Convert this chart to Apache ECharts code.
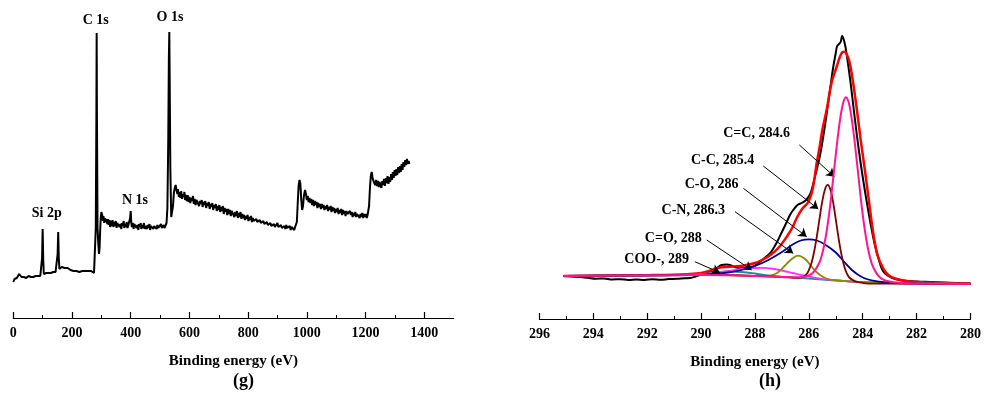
<!DOCTYPE html>
<html>
<head>
<meta charset="utf-8">
<script src="https://cdn.jsdelivr.net/npm/echarts@6/dist/echarts.min.js"></script>
<style>
  html, body { margin: 0; padding: 0; background: #ffffff; }
  #chart { width: 984px; height: 403px; }
</style>
</head>
<body>
<div id="chart"></div>
<script>
// ---- (g) XPS survey spectrum: [binding energy eV, intensity a.u.] ----
const surveySpectrum = [
  [0,36],[4,39],[8,41],[12,40],[16,42],[20,44],[24,43],[28,41],[32,42],[36,41],[40,42],[44,40],[48,41],[52,42],[56,40],
  [60,41],[64,42],[68,41],[72,40],[76,42],[80,41],[84,42],[88,41],[92,42],[96,42],
  [98,60],[100,89],[102,58],[104,44],[108,46],[112,45],[116,47],[120,45],[124,46],[128,45],[132,47],[136,46],[140,48],[144,46],[148,47],
  [151,64],[153,86],[155,60],[157,49],[161,48],[165,51],[170,49],[175,50],[180,48],[185,50],[190,49],[195,48],[200,49],
  [205,47],[210,48],[215,47],[220,48],[225,46],[230,48],[235,47],[240,46],[245,47],[250,46],[255,47],[260,45],[265,47],
  [270,46],[275,45],[279,46],
  [281,90],[283,200],[284,285],[285,200],[287,90],[290,72],[292,64],[294,70],[296,88],[298,100],[300,106],[303,103],
  [305,97],[307,102],[310,95],[312,100],[315,96],[317,99],[320,94],[323,99],[325,93],[328,98],[330,91],[333,97],[336,92],
  [338,98],[341,91],[344,96],[346,92],[349,97],[352,90],[354,95],[357,93],[360,97],[362,91],[365,94],[368,89],[370,95],
  [373,92],[376,97],[378,90],[381,94],[384,91],[386,96],[389,90],[392,93],[395,95],[398,100],[400,107],[402,95],[404,91],
  [407,95],[410,89],[412,94],[415,92],[418,96],[420,90],[423,93],[426,88],[428,94],[431,91],[434,95],[436,89],[439,93],
  [442,90],[445,95],[447,89],[450,92],[453,94],[455,89],[458,93],[461,90],[464,94],[466,88],[469,92],[472,90],[475,94],
  [477,89],[480,92],[483,91],[486,94],[488,89],[491,93],[494,90],[497,92],[500,90],[503,94],[506,90],[509,92],[512,93],
  [515,90],[518,92],[522,95],[525,110],[528,180],[530,260],
  [531.5,286],[533,230],[535,150],[538,101],[541,100],[544,112],[547,125],[550,130],[553,133],[556,128],[559,124],
  [561,129],[564,121],[567,126],[569,120],[572,127],[575,119],[577,124],[580,121],[583,126],[585,118],[588,123],
  [591,117],[594,123],[597,116],[600,121],[603,115],[606,120],[609,117],[612,122],[615,114],[618,119],[621,113],
  [624,118],[627,116],[630,120],[633,112],[636,117],[639,114],[642,118],[645,111],[648,116],[651,113],[654,117],
  [657,110],[660,115],[663,112],[666,116],[669,109],[672,114],[675,111],[678,115],[681,108],[684,113],[687,110],
  [690,114],[693,107],[696,112],[699,108],[702,113],[705,106],[708,111],[711,107],[714,112],[717,104],[720,110],
  [723,106],[726,109],[729,103],[732,109],[735,104],[738,108],[741,102],[744,107],[747,105],[750,108],[753,101],
  [756,106],[759,102],[762,107],[765,100],[768,105],[771,101],[774,106],[777,99],[780,104],[783,100],[786,103],
  [789,98],[792,102],[795,99],[798,103],[801,97],[804,101],[807,98],[810,102],[813,96],[816,100],[819,97],[822,99],
  [825,95],[828,99],[831,96],[834,98],[837,94],[840,98],[843,95],[846,97],[849,93],[852,97],[855,94],[858,96],
  [861,92],[864,96],[867,93],[870,95],[873,91],[876,95],[879,92],[882,94],[885,90],[888,94],[891,91],[894,93],
  [897,90],[900,95],[903,91],[906,93],[909,89],[912,93],[915,90],[918,92],[921,88],[924,92],[927,89],[930,93],
  [933,90],[936,92],[939,89],[942,92],[945,88],[948,91],[951,89],[954,92],[957,88],[960,91],
  [963,90],[966,96],[969,115],[972,132],[975,138],[978,134],[981,118],[984,108],[987,112],[990,122],[994,128],
  [997,124],[1000,118],[1003,122],[1006,116],[1009,120],[1012,115],[1015,119],[1018,113],[1021,118],[1024,112],
  [1027,117],[1030,113],[1033,116],[1036,110],[1039,115],[1042,111],[1045,114],[1048,109],[1051,114],[1054,110],
  [1057,113],[1060,108],[1063,112],[1066,109],[1069,113],[1072,107],[1075,111],[1078,108],[1081,112],[1084,106],
  [1087,111],[1090,107],[1093,110],[1096,105],[1099,109],[1102,106],[1105,110],[1108,104],[1111,108],[1114,105],
  [1117,109],[1120,103],[1123,108],[1126,104],[1129,107],[1132,102],[1135,107],[1138,104],[1141,106],[1144,102],
  [1147,107],[1150,103],[1153,106],[1156,101],[1159,105],[1162,102],[1165,106],[1168,101],[1171,104],[1174,102],
  [1177,105],[1180,100],[1183,104],[1186,101],[1189,105],[1192,100],[1195,104],[1198,101],[1201,104],[1204,100],
  [1207,103],[1209,104],
  [1212,112],[1215,130],[1218,142],[1221,146],[1224,140],[1227,137],[1230,139],[1233,133],[1236,138],[1239,132],
  [1242,137],[1245,131],[1248,136],[1251,134],[1254,130],[1257,137],[1260,133],[1263,139],[1266,132],[1269,140],
  [1272,135],[1275,142],[1278,134],[1281,141],[1284,136],[1287,144],[1290,138],[1293,146],[1296,140],[1299,148],
  [1302,142],[1305,149],[1308,143],[1311,151],[1314,145],[1317,152],[1320,146],[1323,154],[1326,148],[1329,156],
  [1332,151],[1335,158],[1338,153],[1341,159],[1344,154],[1347,157],[1349,154]
];

// Peak assignments on the survey: [energy, height of the label, text]
const surveyLabels = [
  [113.8, 105, 'Si 2p'],
  [414.6, 118, 'N 1s'],
  [280.7, 298, 'C 1s'],
  [533.9, 301, 'O 1s']
];

const surveyTicks = [0, 200, 400, 600, 800, 1000, 1200, 1400];
const surveyMinorTicks = [100, 300, 500, 700, 900, 1100, 1300];

// ---- (h) C 1s high-resolution spectrum ----
const carbonRaw = [
  [295.1,43],[294.8,42.5],[294.5,42],[294.2,41.2],[293.9,40.3],[293.6,40.6],[293.3,39.5],[293.0,39.8],[292.7,39],
  [292.4,39.6],[292.1,39.1],[291.8,39.7],[291.5,39.3],[291.2,39.9],[290.9,40.2],[290.6,40.8],[290.4,41],[290.2,42.5],
  [290.0,44.5],[289.8,46],[289.55,47.5],[289.4,51],[289.24,54],[289.05,54.5],[288.93,54],[288.75,52],[288.56,50.7],
  [288.35,51.5],[288.06,52.5],[287.81,57.3],[287.6,62],[287.4,67],[287.2,76],[287.0,87],[286.82,97],[286.7,104],
  [286.58,109],[286.42,114],[286.27,116],[286.1,119],[285.95,125],[285.84,135],[285.72,148],[285.59,163],[285.45,185],
  [285.34,205],[285.2,232],[285.1,251],[285.0,266],[284.95,273],[284.88,275],[284.82,277],[284.76,283],[284.7,279],
  [284.64,272],[284.55,256],[284.45,236],[284.3,202],[284.15,170],[284.0,142],[283.85,117],[283.7,94],[283.55,74],
  [283.4,59],[283.25,48],[283.05,43],[282.8,40],[282.5,38.5],[282.0,37.5],[281.5,37],[281.0,36.5],[280.5,36],[280.0,35.5]
];

const carbonEnvelope = [
  [295.1,43],[294,43.2],[293,43.5],[292,43.8],[291,44.2],[290.5,44.8],[290.0,46],[289.7,48],[289.42,50.7],[289.1,52],
  [288.8,52.5],[288.4,53.5],[288.0,56],[287.7,59.5],[287.4,64.5],[287.1,72],[286.8,83],[286.6,92],[286.45,101],
  [286.25,110],[286.02,117],[285.85,131],[285.71,155.7],[285.6,172],[285.5,189],[285.34,209],[285.15,237],[284.97,252],
  [284.85,262],[284.75,267],[284.68,267.3],[284.6,265],[284.5,258],[284.4,244],[284.23,212],[284.08,180],[283.92,149],
  [283.76,116],[283.61,86],[283.45,64],[283.24,50.7],[283.05,44],[282.8,40.5],[282.5,38.5],[282,37],[281,36],[280,35.5]
];

const peakCC_sp2 = [   // C=C, 284.6
  [295.1,43],[293,43.5],[291,43.8],[290,44],[289,43.8],[288,43],[287,42],[286.82,41.9],[286.32,41.8],[286.02,43.3],
  [285.82,47],[285.62,55.7],[285.52,63.5],[285.42,75.3],[285.32,91],[285.22,111],[285.12,134.7],[285.02,159.5],
  [284.92,183.3],[284.82,203],[284.72,216.8],[284.62,221.7],[284.52,216.4],[284.42,202.2],[284.32,182],[284.22,157.9],
  [284.12,132.8],[284.02,108.7],[283.92,88.6],[283.82,72.5],[283.72,60.4],[283.62,52.3],[283.42,43.2],[283.22,39.1],
  [282.92,37],[282.42,35.7],[281,35.2],[280,35]
];

const peakCC_sp3 = [   // C-C, 285.4
  [295.1,43],[291,43.8],[289,43.8],[288,43],[287,42],[286.5,41.1],[286.3,41.4],[286.1,44.4],[286.0,48.8],[285.9,56.2],
  [285.8,67.8],[285.7,83.1],[285.6,100.9],[285.5,117.8],[285.4,129.8],[285.3,134.1],[285.2,129.4],[285.1,117],
  [285.0,99.7],[284.9,81.6],[284.8,65.9],[284.7,54],[284.6,46.2],[284.5,41.5],[284.3,37.9],[284.1,36.6],[283.9,35.6],
  [283.5,35.4],[282,35.3],[280,35]
];

const peakCO = [       // C-O, 286
  [295.1,43],[291,44],[290,44.2],[289.5,45],[289,46.5],[288.5,49],[288,53],[287.5,59],[287,67],[286.6,74.5],
  [286.3,78.5],[286.0,79.7],[285.7,78.5],[285.4,74.5],[285.0,66.5],[284.7,57.5],[284.4,49],[284.1,43],[283.8,39.5],
  [283.4,37.3],[283,36.3],[282.5,35.8],[282,35.5],[281,35.2],[280,35]
];

const peakCN = [       // C-N, 286.3
  [295.1,43],[290,44],[289,43.8],[288,43],[287.6,42.8],[287.3,44.5],[287.1,47.5],[286.9,53],[286.7,58.5],[286.5,62.5],
  [286.4,63.3],[286.3,62.8],[286.1,59],[285.9,52.5],[285.7,46.5],[285.5,42.5],[285.3,40],[285,38.8],[284.5,37.6],
  [284,36.8],[283,36],[282,35.5],[280,35]
];

const peakCdO = [      // C=O, 288
  [295.1,43],[290.5,44],[290,44.5],[289.5,46],[289,48],[288.5,50],[288,51],[287.7,51.2],[287.4,50.5],[287,48.5],
  [286.6,46],[286.2,43.5],[285.8,41.3],[285.4,39.6],[285,38.6],[284.5,37.5],[284,36.8],[283,36],[282,35.5],[280,35]
];

const peakCOO = [      // COO-, 289
  [295.1,43],[290.5,44],[290,44.8],[289.5,46.5],[289,47.5],[288.5,47],[288,45.5],[287.5,43.5],[287,42.3],[286.5,41.3],
  [286,40.4],[285,38.5],[284,36.8],[283,36],[282,35.5],[280,35]
];

// Component callouts: text, text anchor [eV, y], arrow tail [eV, y], arrow head [eV, y]
const carbonCallouts = [
  ['C=C, 284.6', [287.94, 185.7], [286.35, 174.0], [285.05, 142.3]],
  ['C-C, 285.4', [289.20, 159.0], [287.69, 153.0], [285.65, 110.0]],
  ['C-O, 286',   [289.61, 134.7], [288.43, 130.7], [286.08, 82.3]],
  ['C-N, 286.3', [290.29, 109.0], [288.74, 107.3], [286.58, 65.7]],
  ['C=O, 288',   [291.03, 80.7],  [289.79, 79.0],  [288.12, 49.0]],
  ['COO-, 289',  [291.65, 59.7],  [290.23, 57.3],  [289.30, 46.3]]
];

const carbonTicks = [296, 294, 292, 290, 288, 286, 284, 282, 280];
const carbonMinorTicks = [295, 293, 291, 289, 287, 285, 283, 281];

// ---- drawing ----
const FONT = '"Liberation Serif", "Times New Roman", serif';
const textStyle = { fontFamily: FONT, fontWeight: 'bold', color: '#000' };

function majorAxis(grid, min, max, ticks, inverse) {
  return {
    type: 'value', gridIndex: grid, position: 'bottom', min: min, max: max, inverse: !!inverse,
    name: 'Binding energy (eV)', nameLocation: 'middle', nameGap: 36,
    nameTextStyle: Object.assign({ fontSize: 15 }, textStyle),
    axisLine: { show: true, onZero: false, lineStyle: { color: '#000', width: 1.2 } },
    axisTick: { show: true, inside: true, length: 6, customValues: ticks, lineStyle: { color: '#000', width: 1.2 } },
    axisLabel: Object.assign({ show: true, customValues: ticks, margin: 8, fontSize: 14,
      formatter: v => String(v) }, textStyle),
    splitLine: { show: false }
  };
}
function minorAxis(grid, min, max, ticks, inverse) {
  return {
    type: 'value', gridIndex: grid, position: 'bottom', min: min, max: max, inverse: !!inverse,
    axisLine: { show: false, onZero: false },
    axisTick: { show: true, inside: true, length: 3, customValues: ticks, lineStyle: { color: '#000', width: 1 } },
    axisLabel: { show: false },
    splitLine: { show: false }
  };
}

function curve(name, data, color, width, xi, yi, z) {
  return {
    name: name, type: 'line', data: data, xAxisIndex: xi, yAxisIndex: yi,
    showSymbol: false, symbol: 'none', smooth: xi === 0 ? false : 0.35, z: z || 2,
    lineStyle: { color: color, width: width }, silent: true
  };
}

function labelSeries(items, xi, yi) {
  return {
    type: 'scatter', xAxisIndex: xi, yAxisIndex: yi, symbolSize: 1, silent: true, z: 10,
    itemStyle: { color: 'rgba(0,0,0,0)', opacity: 1 },
    label: Object.assign({ show: true, position: 'inside', formatter: '{b}', fontSize: 14 }, textStyle),
    data: items.map(d => ({ name: d.text, value: d.pos }))
  };
}

const arrowSeries = {
  type: 'line', xAxisIndex: 2, yAxisIndex: 1, data: [], silent: true, z: 9,
  markLine: {
    silent: true, symbol: ['none', 'arrow'], symbolSize: 8, animation: false,
    label: { show: false },
    lineStyle: { color: '#000', width: 1, type: 'solid', opacity: 1 },
    data: carbonCallouts.map(c => [{ coord: c[2] }, { coord: c[3] }])
  }
};

const option = {
  animation: false,
  backgroundColor: '#ffffff',
  grid: [
    { left: 13.3, width: 440.3, top: 0, height: 318 },
    { left: 539.4, width: 431.3, top: 0, height: 319 }
  ],
  xAxis: [
    majorAxis(0, 0, 1500, surveyTicks, false),
    minorAxis(0, 0, 1500, surveyMinorTicks, false),
    majorAxis(1, 280, 296, carbonTicks, true),
    minorAxis(1, 280, 296, carbonMinorTicks, true)
  ],
  yAxis: [
    { type: 'value', gridIndex: 0, min: 0, max: 318, show: false },
    { type: 'value', gridIndex: 1, min: 0, max: 319, show: false }
  ],
  series: [
    curve('Survey', surveySpectrum, '#000000', 2, 0, 0, 2),
    labelSeries(surveyLabels.map(l => ({ text: l[2], pos: [l[0], l[1]] })), 0, 0),

    curve('Raw', carbonRaw, '#000000', 2, 2, 1, 2),
    curve('Envelope', carbonEnvelope, '#ff0000', 2.5, 2, 1, 3),
    curve('COO-', peakCOO, '#1a8f9a', 1.8, 2, 1, 4),
    curve('C=O', peakCdO, '#ff33ff', 1.8, 2, 1, 4),
    curve('C-N', peakCN, '#8c8c00', 1.8, 2, 1, 5),
    curve('C-O', peakCO, '#000099', 1.8, 2, 1, 5),
    curve('C-C', peakCC_sp3, '#800000', 1.8, 2, 1, 6),
    curve('C=C', peakCC_sp2, '#ff1493', 2, 2, 1, 7),
    arrowSeries,
    labelSeries(carbonCallouts.map(c => ({ text: c[0], pos: c[1] })), 2, 1)
  ],
  graphic: [
    { type: 'text', left: 233, top: 372, style: { text: '(g)', font: 'bold 18px ' + FONT, fill: '#000' } },
    { type: 'text', left: 759, top: 372, style: { text: '(h)', font: 'bold 18px ' + FONT, fill: '#000' } }
  ]
};

const chart = echarts.init(document.getElementById('chart'), null, { renderer: 'canvas' });
chart.setOption(option);
</script>
</body>
</html>
